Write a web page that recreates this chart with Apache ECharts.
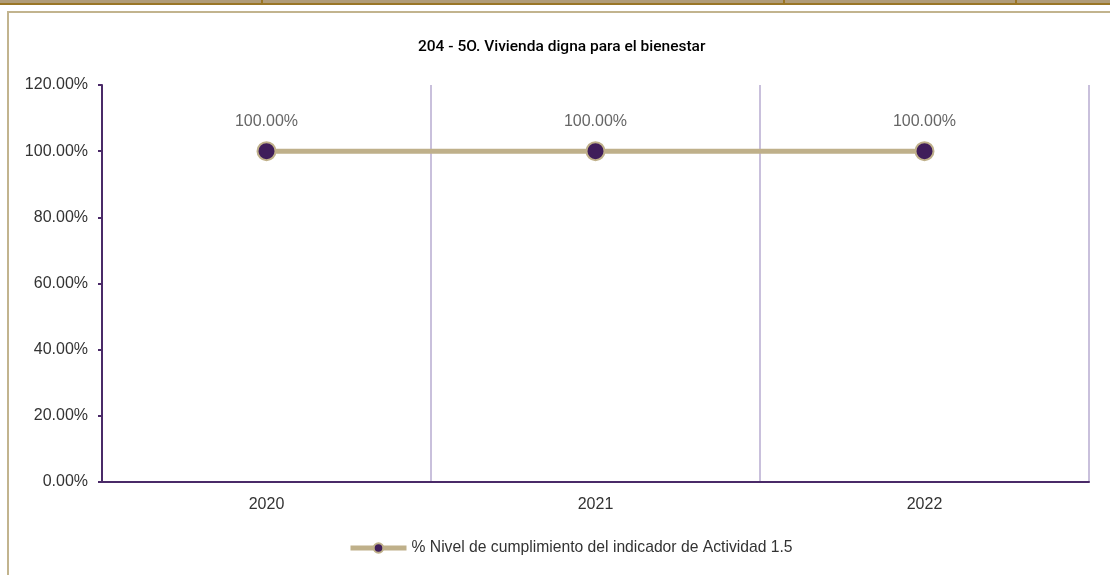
<!DOCTYPE html>
<html>
<head>
<meta charset="utf-8">
<script src="https://cdn.jsdelivr.net/npm/echarts@6/dist/echarts.min.js"></script>
<style>
html,body{margin:0;padding:0;background:#fff;}
#c{width:1110px;height:575px;}
</style>
</head>
<body>
<div id="c"></div>
<script>
const title = '204 - 5O. Vivienda digna para el bienestar';
const categories = ['2020', '2021', '2022'];
const seriesName = '% Nivel de cumplimiento del indicador de Actividad 1.5';
const values = [100, 100, 100];
const yMin = 0, yMax = 120, yStep = 20;

const chart = echarts.init(document.getElementById('c'), null, {renderer: 'canvas'});
const fmt = v => v.toFixed(2) + '%';
chart.setOption({
  animation: false,
  backgroundColor: '#ffffff',
  title: {
    text: title, left: 413, top: 34,
    textStyle: {fontFamily: 'Roboto', fontWeight: 500, fontSize: 15.5, color: '#000'}
  },
  graphic: [
    {type: 'rect', shape: {x: 0, y: 0, width: 1110, height: 3}, style: {fill: '#b09c78'}, z: 100},
    {type: 'rect', shape: {x: 0, y: 3, width: 1110, height: 2}, style: {fill: '#9a7626'}, z: 100},
    {type: 'rect', shape: {x: 261, y: 0, width: 2, height: 4}, style: {fill: '#9a7626'}, z: 100},
    {type: 'rect', shape: {x: 783, y: 0, width: 2, height: 4}, style: {fill: '#9a7626'}, z: 100},
    {type: 'rect', shape: {x: 1015, y: 0, width: 2, height: 4}, style: {fill: '#9a7626'}, z: 100},
    {type: 'rect', shape: {x: 7, y: 11, width: 1103, height: 2}, style: {fill: '#c2b48e'}, z: 100},
    {type: 'rect', shape: {x: 7, y: 11, width: 2, height: 564}, style: {fill: '#c2b48e'}, z: 100}
  ],
  grid: {left: 102, right: 21, top: 85, bottom: 93, containLabel: false},
  legend: {
    bottom: 19, left: 348, padding: 0,
    itemWidth: 56, itemHeight: 12, itemGap: 5,
    lineStyle: {width: 5},
    textStyle: {fontFamily: 'Liberation Sans', fontSize: 15.7, color: '#333'},
    data: [seriesName]
  },
  xAxis: {
    type: 'category', data: categories, boundaryGap: true,
    axisLine: {lineStyle: {color: '#4a2a68', width: 2}},
    axisTick: {show: false},
    axisLabel: {fontFamily: 'Liberation Sans', fontSize: 16, color: '#333', margin: 15},
    splitLine: {show: true, lineStyle: {color: '#c9c0dc', width: 2}}
  },
  yAxis: {
    type: 'value', min: yMin, max: yMax, interval: yStep,
    axisLine: {show: true, lineStyle: {color: '#4a2a68', width: 2}},
    axisTick: {show: true, length: 4, lineStyle: {color: '#4a2a68', width: 2}},
    axisLabel: {fontFamily: 'Liberation Sans', fontSize: 16, color: '#333', margin: 14, formatter: fmt},
    splitLine: {show: false}
  },
  series: [{
    name: seriesName, type: 'line', data: values,
    symbol: 'circle', symbolSize: 18,
    lineStyle: {color: '#bfb08a', width: 5},
    itemStyle: {color: '#3f1d5a', borderColor: '#bfb08a', borderWidth: 2},
    label: {show: true, position: 'top', distance: 12, formatter: p => fmt(p.value),
      fontFamily: 'Liberation Sans', fontSize: 16, color: '#666'}
  }]
});
</script>
</body>
</html>
